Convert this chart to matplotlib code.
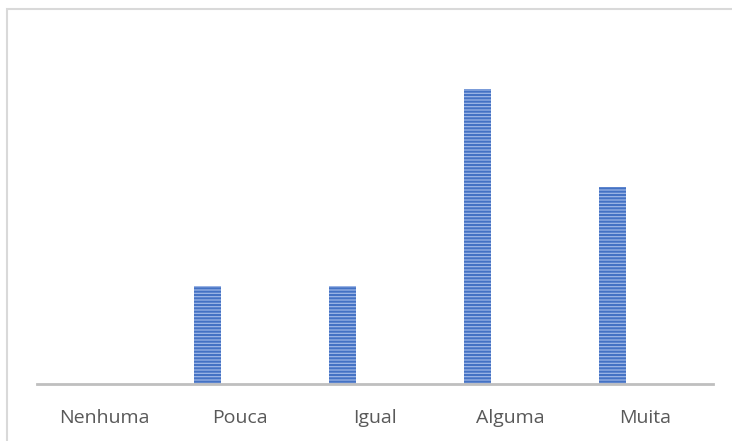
import numpy as np
import matplotlib.pyplot as plt
from matplotlib.patches import Rectangle

# dados
categorias = ['Nenhuma', 'Pouca', 'Igual', 'Alguma', 'Muita']
valores = [0, 1, 1, 3, 2]

plt.rcParams['hatch.linewidth'] = 1.5
plt.rcParams['font.family'] = ['Open Sans', 'DejaVu Sans']

fig = plt.figure(figsize=(7.32, 4.41), dpi=100)
ax = fig.add_axes([37/732, 1-384/441, (713-37)/732, (384-40)/441])

x = np.arange(len(categorias))
ax.bar(x - 0.24, valores, width=0.2, color='#9DB6E6', edgecolor='#4472C4',
       hatch='-----', linewidth=0)

ax.set_xlim(-0.5, len(categorias) - 0.5)
ax.set_ylim(0, 3.5)
ax.set_xticks(x)
ax.set_xticklabels(categorias, fontsize=14, color='#595959')
ax.tick_params(axis='x', length=0, pad=18)
ax.set_yticks([])
for s in ['top', 'right', 'left']:
    ax.spines[s].set_visible(False)
ax.spines['bottom'].set_color('#BFBFBF')
ax.spines['bottom'].set_linewidth(2)

# borda do grafico
fig.patches.append(Rectangle((7/732, -0.01), 1.0, 1 - 9/441 + 0.01, transform=fig.transFigure,
                             fill=False, edgecolor='#D9D9D9', linewidth=1.5))

fig.savefig('out.png', dpi=100)
